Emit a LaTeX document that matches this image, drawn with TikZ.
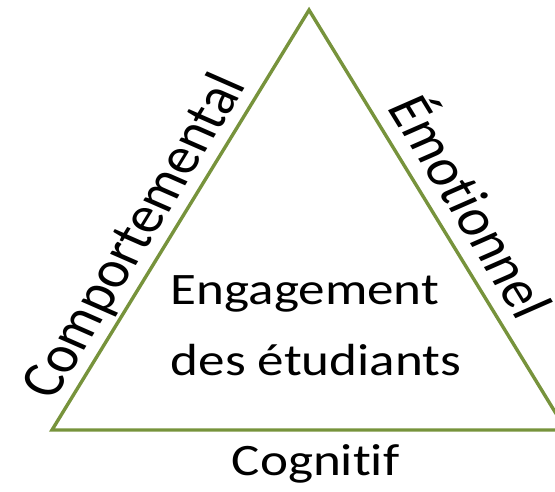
\documentclass[tikz,border=0pt]{standalone}
\usepackage{fontspec}
\setmainfont{Carlito}[Ligatures={NoCommon}]
\definecolor{edgegreen}{HTML}{77933C}
\tikzset{
  edge/.style={draw=edgegreen, line width=3.4pt, line join=miter},
  midtext/.style={font=\fontsize{45}{50}\selectfont, inner sep=0pt, text=black},
  sidetext/.style={font=\fontsize{51.5}{60}\selectfont, inner sep=0pt, text=black, anchor=base}
}
\begin{document}
\begin{tikzpicture}[x=1pt,y=1pt]
\useasboundingbox (0,0) rectangle (555,491);
\begin{scope}[xscale=1.18, transform shape]
  \coordinate (L) at (44.07,61);
  \coordinate (T) at (261.86,481);
  \coordinate (R) at (479.66,61);
  \draw[edge] (L) -- (T) -- (R) -- cycle;
  \node[midtext, anchor=base west] (eng) at (144.5,186.5) {Engagement};
  \node[midtext, anchor=base west] (des) at (144.5,116) {des étudiants};
  \node[midtext, anchor=base] (cog) at (267.4,16) {Cognitif};
  \node[sidetext, rotate=62.6] (comp) at (127.2,247.6) {Comportemental};
  \node[sidetext, rotate=-62.6] (emo) at (383.4,276.5) {Émotionnel};
\end{scope}
\end{tikzpicture}
\end{document}
